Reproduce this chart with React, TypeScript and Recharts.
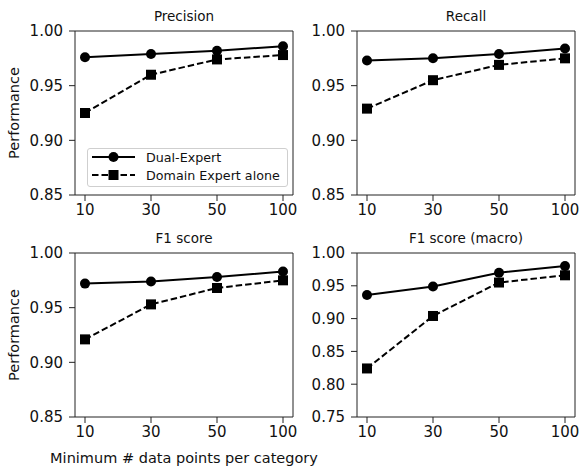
import { Legend, Line, LineChart, XAxis, YAxis } from "recharts";

const categories = ["10", "30", "50", "100"];

const precisionDual = [0.976, 0.979, 0.982, 0.986];
const precisionDomain = [0.925, 0.960, 0.974, 0.978];
const recallDual = [0.973, 0.975, 0.979, 0.984];
const recallDomain = [0.929, 0.955, 0.969, 0.975];
const f1Dual = [0.972, 0.974, 0.978, 0.983];
const f1Domain = [0.921, 0.953, 0.968, 0.975];
const f1MacroDual = [0.936, 0.949, 0.970, 0.980];
const f1MacroDomain = [0.824, 0.904, 0.955, 0.966];

const ticksNarrow = [0.85, 0.9, 0.95, 1.0];
const ticksWide = [0.75, 0.8, 0.85, 0.9, 0.95, 1.0];

const seriesOrder = ["Dual-Expert", "Domain Expert alone"];

const FONT = '"DejaVu Sans", sans-serif';
const INK = "#111";
const FRAME = "#222";

type Panel = {
  title: string;
  dual: number[];
  domain: number[];
  ticks: number[];
  left: number;
  top: number;
  width: number;
  height: number;
  yAxisWidth: number;
  xAxisHeight: number;
  showYLabel: boolean;
  showXLabel: boolean;
  showLegend: boolean;
};

const panels: Panel[] = [
  { title: "Precision", dual: precisionDual, domain: precisionDomain, ticks: ticksNarrow, left: 0, top: 0, width: 300, height: 230, yAxisWidth: 75, xAxisHeight: 35, showYLabel: true, showXLabel: false, showLegend: true },
  { title: "Recall", dual: recallDual, domain: recallDomain, ticks: ticksNarrow, left: 300, top: 0, width: 280, height: 230, yAxisWidth: 57, xAxisHeight: 35, showYLabel: false, showXLabel: false, showLegend: false },
  { title: "F1 score", dual: f1Dual, domain: f1Domain, ticks: ticksNarrow, left: 0, top: 222, width: 300, height: 244, yAxisWidth: 75, xAxisHeight: 49, showYLabel: true, showXLabel: true, showLegend: false },
  { title: "F1 score (macro)", dual: f1MacroDual, domain: f1MacroDomain, ticks: ticksWide, left: 300, top: 222, width: 280, height: 244, yAxisWidth: 57, xAxisHeight: 49, showYLabel: false, showXLabel: false, showLegend: false },
];

function SquareDot(props: any) {
  const { cx, cy, index } = props;
  if (cx == null || cy == null) return null;
  return <rect key={`sq-${index}`} x={cx - 5} y={cy - 5} width={10} height={10} fill="#000" />;
}

function LegendBox({ payload }: { payload?: any[] }) {
  if (!payload) return null;
  const items = [...payload].sort((a, b) => seriesOrder.indexOf(a.value) - seriesOrder.indexOf(b.value));
  return (
    <div
      style={{
        width: 201,
        height: 39,
        boxSizing: "border-box",
        border: "1px solid #cfcfcf",
        borderRadius: 3,
        background: "rgba(255,255,255,0.85)",
        position: "relative",
        fontFamily: FONT,
        fontSize: 12.7,
        color: INK,
      }}
    >
      {items.map((entry, i) => {
        const dashed = entry.type === "square";
        const y = 8 + i * 18;
        return (
          <div key={entry.value} style={{ position: "absolute", left: 4, top: y - 9, height: 18, display: "flex", alignItems: "center" }}>
            <svg width={46} height={18}>
              <line x1={0} y1={9} x2={43} y2={9} stroke="#000" strokeWidth={2} strokeDasharray={dashed ? "6.5 3" : undefined} />
              {dashed ? <rect x={16.5} y={4} width={10} height={10} fill="#000" /> : <circle cx={21.5} cy={9} r={5} fill="#000" />}
            </svg>
            <span style={{ marginLeft: 8, whiteSpace: "nowrap" }}>{entry.value}</span>
          </div>
        );
      })}
    </div>
  );
}

function ChartPanel({ p }: { p: Panel }) {
  const data = categories.map((n, i) => ({ n, dual: p.dual[i], domain: p.domain[i] }));
  const yDomain: [number, number] = [p.ticks[0], p.ticks[p.ticks.length - 1]];

  return (
    <div style={{ position: "absolute", left: p.left, top: p.top }}>
      <LineChart width={p.width} height={p.height} data={data} margin={{ top: 30, right: p.left === 0 ? 6 : 4, left: 0, bottom: 0 }}>
        <XAxis
          dataKey="n"
          xAxisId="top"
          orientation="top"
          height={1}
          tick={false}
          tickLine={false}
          axisLine={{ stroke: FRAME }}
          padding={{ left: 10, right: 10 }}
          label={{
            content: (props: any) => {
              const vb = props.viewBox;
              return (
                <text x={vb.x + vb.width / 2} y={vb.y + vb.height - 10} textAnchor="middle" fontSize={13.5} fill={INK} fontFamily={FONT}>
                  {p.title}
                </text>
              );
            },
          }}
        />
        <XAxis
          dataKey="n"
          height={p.xAxisHeight}
          padding={{ left: 10, right: 10 }}
          tick={{ fill: INK, fontSize: 15 }}
          tickLine={{ stroke: FRAME }}
          tickSize={6}
          tickMargin={3}
          axisLine={{ stroke: FRAME }}
          label={
            p.showXLabel
              ? {
                  content: (props: any) => {
                    const vb = props.viewBox;
                    return (
                      <text x={vb.x + vb.width / 2} y={vb.y + 46} textAnchor="middle" fontSize={14.5} fill={INK} fontFamily={FONT}>
                        Minimum # data points per category
                      </text>
                    );
                  },
                }
              : undefined
          }
        />
        <YAxis
          width={p.yAxisWidth}
          domain={yDomain}
          ticks={p.ticks}
          type="number"
          allowDataOverflow
          tickFormatter={(v: number) => v.toFixed(2)}
          tick={{ fill: INK, fontSize: 15 }}
          tickLine={{ stroke: FRAME }}
          tickSize={6}
          tickMargin={6}
          axisLine={{ stroke: FRAME }}
          label={
            p.showYLabel
              ? {
                  content: (props: any) => {
                    const vb = props.viewBox;
                    const cx = vb.x + 14;
                    const cy = vb.y + vb.height / 2;
                    return (
                      <text x={cx} y={cy} transform={`rotate(-90 ${cx} ${cy})`} textAnchor="middle" dominantBaseline="central" fontSize={14.5} fill={INK} fontFamily={FONT}>
                        Performance
                      </text>
                    );
                  },
                }
              : undefined
          }
        />
        <YAxis yAxisId="right" orientation="right" width={1} domain={yDomain} type="number" tick={false} tickLine={false} axisLine={{ stroke: FRAME }} />
        {p.showLegend && (
          <Legend
            layout="vertical"
            align="center"
            verticalAlign="middle"
            wrapperStyle={{ left: 87, top: 148, width: 201, height: 39 }}
            content={<LegendBox />}
          />
        )}
        <Line
          dataKey="dual"
          name="Dual-Expert"
          stroke="#000"
          strokeWidth={2}
          legendType="circle"
          dot={{ r: 5, fill: "#000", stroke: "#000", strokeWidth: 0 }}
          activeDot={false}
          isAnimationActive={false}
        />
        <Line
          dataKey="domain"
          name="Domain Expert alone"
          stroke="#000"
          strokeWidth={2}
          strokeDasharray="6.5 3"
          legendType="square"
          dot={<SquareDot />}
          activeDot={false}
          isAnimationActive={false}
        />
      </LineChart>
    </div>
  );
}

export default function App() {
  return (
    <div style={{ position: "relative", width: 580, height: 466, background: "#fff", fontFamily: FONT }}>
      <style>{"body { margin: 0; } .recharts-surface { overflow: visible; }"}</style>
      {panels.map((p) => (
        <ChartPanel key={p.title} p={p} />
      ))}
    </div>
  );
}
